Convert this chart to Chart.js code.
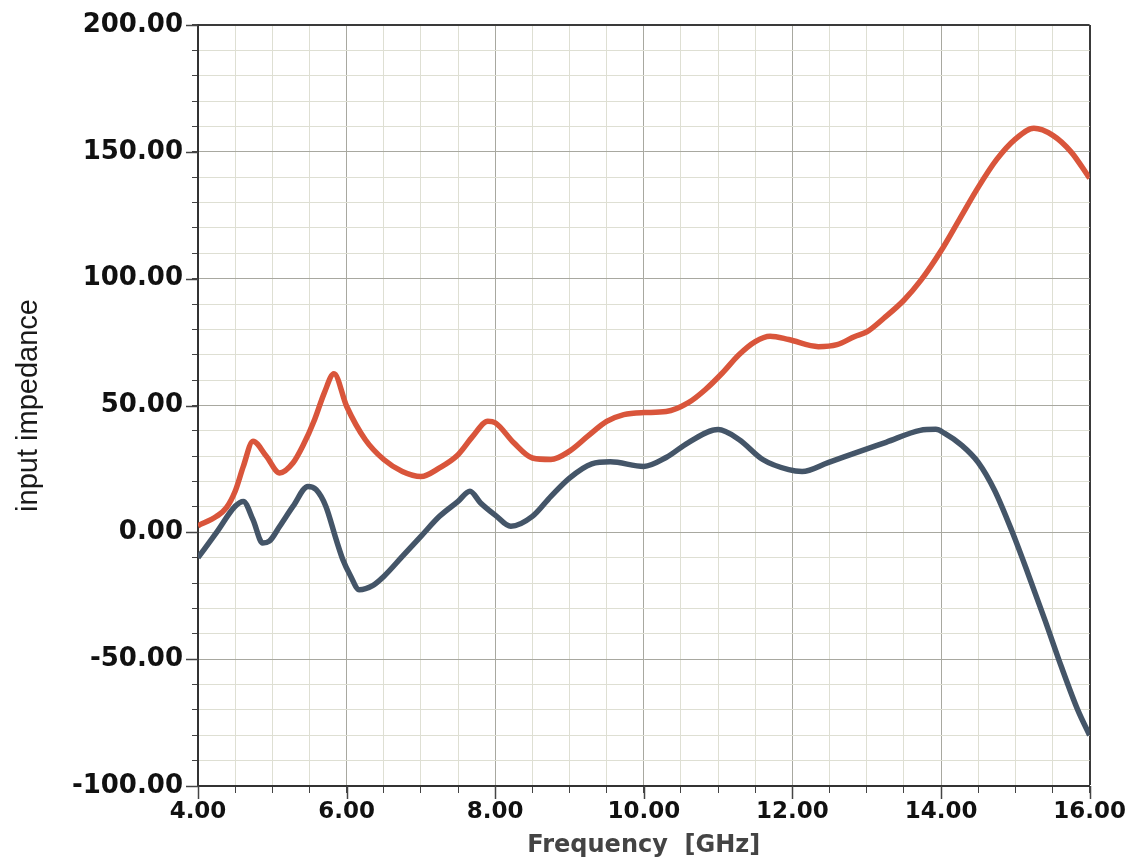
<!DOCTYPE html>
<html>
<head>
<meta charset="utf-8">
<title>Input impedance vs frequency</title>
<script src="https://cdn.jsdelivr.net/npm/chart.js@4.4.1/dist/chart.umd.min.js"></script>
<style>
  html, body { margin: 0; padding: 0; background: #ffffff; }
  #wrap { width: 1131px; height: 864px; position: relative; }
</style>
</head>
<body>
<div id="wrap"><canvas id="chart" width="1131" height="864"></canvas></div>
<script>
// Frequency sweep (GHz) and impedance samples for the two traces
const redFreq = [4.0, 4.25, 4.38, 4.5, 4.61, 4.74, 4.92, 5.1, 5.28, 5.41, 5.57, 5.7, 5.83,
  6.0, 6.25, 6.5, 6.75, 7.0, 7.25, 7.5, 7.7, 7.9, 8.0, 8.25, 8.5, 8.75, 9.0, 9.25, 9.5,
  9.73, 10.0, 10.3, 10.6, 10.83, 11.06, 11.28, 11.5, 11.7, 11.95, 12.35, 12.6, 12.84,
  13.0, 13.23, 13.5, 13.73, 14.0, 14.25, 14.5, 14.75, 15.0, 15.25, 15.5, 15.75, 16.0];
const redValues = [2.6, 6.3, 9.6, 16.2, 26, 35.9, 30, 23.4, 27.4, 34, 44.5, 55, 62.5,
  49.7, 36.6, 28.7, 24, 22, 25.4, 30.6, 37.9, 43.8, 43.2, 35.3, 29.3, 28.7, 32, 38, 43.7,
  46.4, 47.2, 47.6, 51.1, 56.3, 62.9, 70, 75.2, 77.3, 76, 73.2, 74, 77.2,
  79, 84.4, 91.5, 99.4, 111, 123.5, 136, 147, 155, 159.3, 156.6, 150, 139.6];

const blueFreq = [4.0, 4.25, 4.5, 4.61, 4.74, 4.87, 4.96, 5.1, 5.28, 5.48, 5.59, 5.72, 5.86,
  5.95, 6.05, 6.17, 6.35, 6.5, 6.75, 7.0, 7.25, 7.5, 7.66, 7.8, 8.0, 8.21, 8.5, 8.75, 9.0,
  9.3, 9.55, 10.0, 10.3, 10.6, 11.0, 11.28, 11.6, 11.95, 12.13, 12.48, 12.82, 13.26, 13.72,
  13.93, 14.05, 14.28, 14.5, 14.72, 14.95, 15.17, 15.4, 15.62, 15.84, 16.0];
const blueValues = [-10, 0, 10.3, 12.2, 5, -4.2, -3.5, 2.4, 10.3, 18.1, 16.8, 10.3, -2.9,
  -10.8, -17, -22.6, -21, -17.4, -9.5, -1.6, 6.3, 12.2, 16.2, 11.7, 6.8, 2.4, 6.3, 14.2, 21.4,
  27, 27.8, 26, 29.5, 35.4, 40.5, 36.6, 28.7, 24.7, 24, 27.5, 31, 35.5, 40.2,
  40.6, 39, 34.3, 27.6, 16.6, 0.8, -16.2, -34.7, -53, -70, -80];

// Axis ranges and labelled tick spacing
const xRange = [4, 16];
const xMinorStep = 0.5;
const xLabelStep = 2;
const yRange = [-100, 200];
const yMinorStep = 10;
const yLabelStep = 50;

const xTitle = 'Frequency  [GHz]';
const yTitle = 'input impedance';

const toPoints = (xs, ys) => xs.map((x, i) => ({ x, y: ys[i] }));
const isStep = (v, step) => Math.abs(v / step - Math.round(v / step)) < 1e-6;

function gridColor(ctx, step, edge) {
  if (!ctx.tick) return '#dcdcd0';
  const v = ctx.tick.value;
  if (Math.abs(v - edge) < 1e-6) return '#3a3a3a';
  return isStep(v, step) ? '#a8a8a0' : '#dedfd3';
}
function gridWidth(ctx, edge) {
  if (ctx.tick && Math.abs(ctx.tick.value - edge) < 1e-6) return 2;
  return 1;
}

// Longer outside marks at the labelled ticks
const majorTickMarks = {
  id: 'majorTickMarks',
  afterDraw(chart) {
    const { ctx, chartArea, scales } = chart;
    ctx.save();
    ctx.strokeStyle = '#444';
    ctx.lineWidth = 1.5;
    scales.x.ticks.forEach(t => {
      if (!isStep(t.value, xLabelStep)) return;
      const px = Math.round(scales.x.getPixelForValue(t.value)) + 0.5;
      ctx.beginPath();
      ctx.moveTo(px, chartArea.bottom);
      ctx.lineTo(px, chartArea.bottom + 13);
      ctx.stroke();
    });
    scales.y.ticks.forEach(t => {
      if (!isStep(t.value, yLabelStep)) return;
      const py = Math.round(scales.y.getPixelForValue(t.value)) + 0.5;
      ctx.beginPath();
      ctx.moveTo(chartArea.left, py);
      ctx.lineTo(chartArea.left - 12, py);
      ctx.stroke();
    });
    ctx.restore();
  }
};

new Chart(document.getElementById('chart'), {
  type: 'line',
  data: {
    datasets: [
      {
        label: 'red',
        data: toPoints(redFreq, redValues),
        borderColor: '#d9553b',
        borderWidth: 5.5,
        pointRadius: 0,
        cubicInterpolationMode: 'monotone',
        fill: false
      },
      {
        label: 'blue',
        data: toPoints(blueFreq, blueValues),
        borderColor: '#445568',
        borderWidth: 5.5,
        pointRadius: 0,
        cubicInterpolationMode: 'monotone',
        fill: false
      }
    ]
  },
  options: {
    responsive: false,
    animation: false,
    events: [],
    layout: { padding: { top: 25, right: 38, bottom: 0, left: 0 } },
    plugins: {
      legend: { display: false },
      tooltip: { enabled: false }
    },
    scales: {
      x: {
        type: 'linear',
        min: xRange[0],
        max: xRange[1],
        afterFit(scale) { scale.height = 78; },
        border: { color: '#333', width: 2 },
        grid: {
          color: ctx => gridColor(ctx, xLabelStep, xRange[1]),
          lineWidth: ctx => gridWidth(ctx, xRange[1]),
          tickColor: '#444',
          tickLength: 7,
          drawTicks: true
        },
        ticks: {
          stepSize: xMinorStep,
          autoSkip: false,
          maxRotation: 0,
          minRotation: 0,
          padding: 5,
          color: '#111',
          font: { family: 'DejaVu Sans', weight: 'bold', size: 23 },
          callback: v => isStep(v, xLabelStep) ? Number(v).toFixed(2) : ''
        },
        title: {
          display: true,
          text: xTitle,
          color: '#444',
          font: { family: 'DejaVu Sans', weight: 'bold', size: 24 },
          padding: { top: 0, bottom: 4 }
        }
      },
      y: {
        type: 'linear',
        min: yRange[0],
        max: yRange[1],
        afterFit(scale) { scale.width = 198; },
        border: { color: '#333', width: 2 },
        grid: {
          color: ctx => gridColor(ctx, yLabelStep, yRange[1]),
          lineWidth: ctx => gridWidth(ctx, yRange[1]),
          tickColor: '#444',
          tickLength: 6,
          drawTicks: true
        },
        ticks: {
          stepSize: yMinorStep,
          autoSkip: false,
          padding: 9,
          color: '#111',
          font: { family: 'DejaVu Sans', weight: 'bold', size: 26 },
          callback: v => isStep(v, yLabelStep) ? Number(v).toFixed(2) : ''
        },
        title: {
          display: true,
          text: yTitle,
          color: '#1a1a1a',
          font: { family: 'Liberation Sans', weight: 'normal', size: 29 },
          padding: { top: 12, bottom: 0 }
        }
      }
    }
  },
  plugins: [majorTickMarks]
});
</script>
</body>
</html>
